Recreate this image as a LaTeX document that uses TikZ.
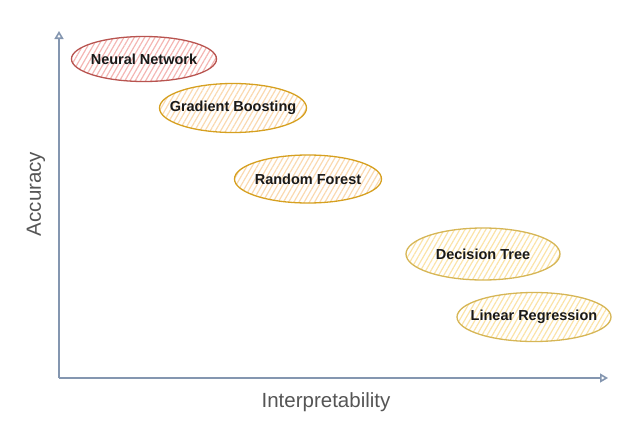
\documentclass[tikz,border=0pt]{standalone}
\usepackage{fontspec}
\setmainfont{Liberation Sans}
\usetikzlibrary{shapes.geometric, arrows.meta, patterns.meta}

\definecolor{axisblue}{HTML}{8496B0}
\definecolor{labelgray}{HTML}{555555}
\definecolor{nnred}{HTML}{B85450}
\definecolor{nnhatch}{HTML}{F4B6B3}
\definecolor{gbgold}{HTML}{D6A020}
\definecolor{gbhatch}{HTML}{FAD9B0}
\definecolor{dtgold}{HTML}{D6B656}
\definecolor{dthatch}{HTML}{FBE3A8}

\tikzset{
  model/.style={ellipse, inner xsep=-40pt, inner ysep=-10pt, line width=1.3pt,
    font=\fontsize{14.5}{16}\selectfont\bfseries, text=black!90},
  hatch/.style={pattern={Lines[angle=60,distance=4.5pt,line width=1.2pt]}, pattern color=#1},
  axislabel/.style={font=\fontsize{20.5}{22}\selectfont, text=labelgray}
}

\begin{document}
\begin{tikzpicture}[x=1pt, y=-1pt]
\useasboundingbox (0,0) rectangle (637,423);
\coordinate (Origin) at (59,378);
\coordinate (ytip) at (59,31);
\coordinate (xtip) at (608,378);
\draw[axisblue, line width=1.6pt, -{Triangle[open,length=8pt,width=9pt]}] (Origin) -- (ytip);
\draw[axisblue, line width=1.6pt, -{Triangle[open,length=8pt,width=9pt]}] (Origin) -- (xtip);
\node[axislabel, rotate=90] (acc) at (36,194) {Accuracy};
\node[axislabel] (interp) at (326,402) {Interpretability};

\node[model, draw=nnred, hatch=nnhatch, minimum width=145pt, minimum height=45pt] (nn) at (144,59) {Neural Network};
\node[model, draw=gbgold, hatch=gbhatch, minimum width=147pt, minimum height=49pt] (gb) at (233,108) {Gradient Boosting};
\node[model, draw=gbgold, hatch=gbhatch, minimum width=147pt, minimum height=48pt] (rf) at (308,179) {Random Forest};
\node[model, draw=dtgold, hatch=dthatch, minimum width=154pt, minimum height=52pt] (dt) at (483,254) {Decision Tree};
\node[model, draw=dtgold, hatch=dthatch, minimum width=154pt, minimum height=49pt] (lr) at (534,317) {Linear Regression};
\end{tikzpicture}
\end{document}
